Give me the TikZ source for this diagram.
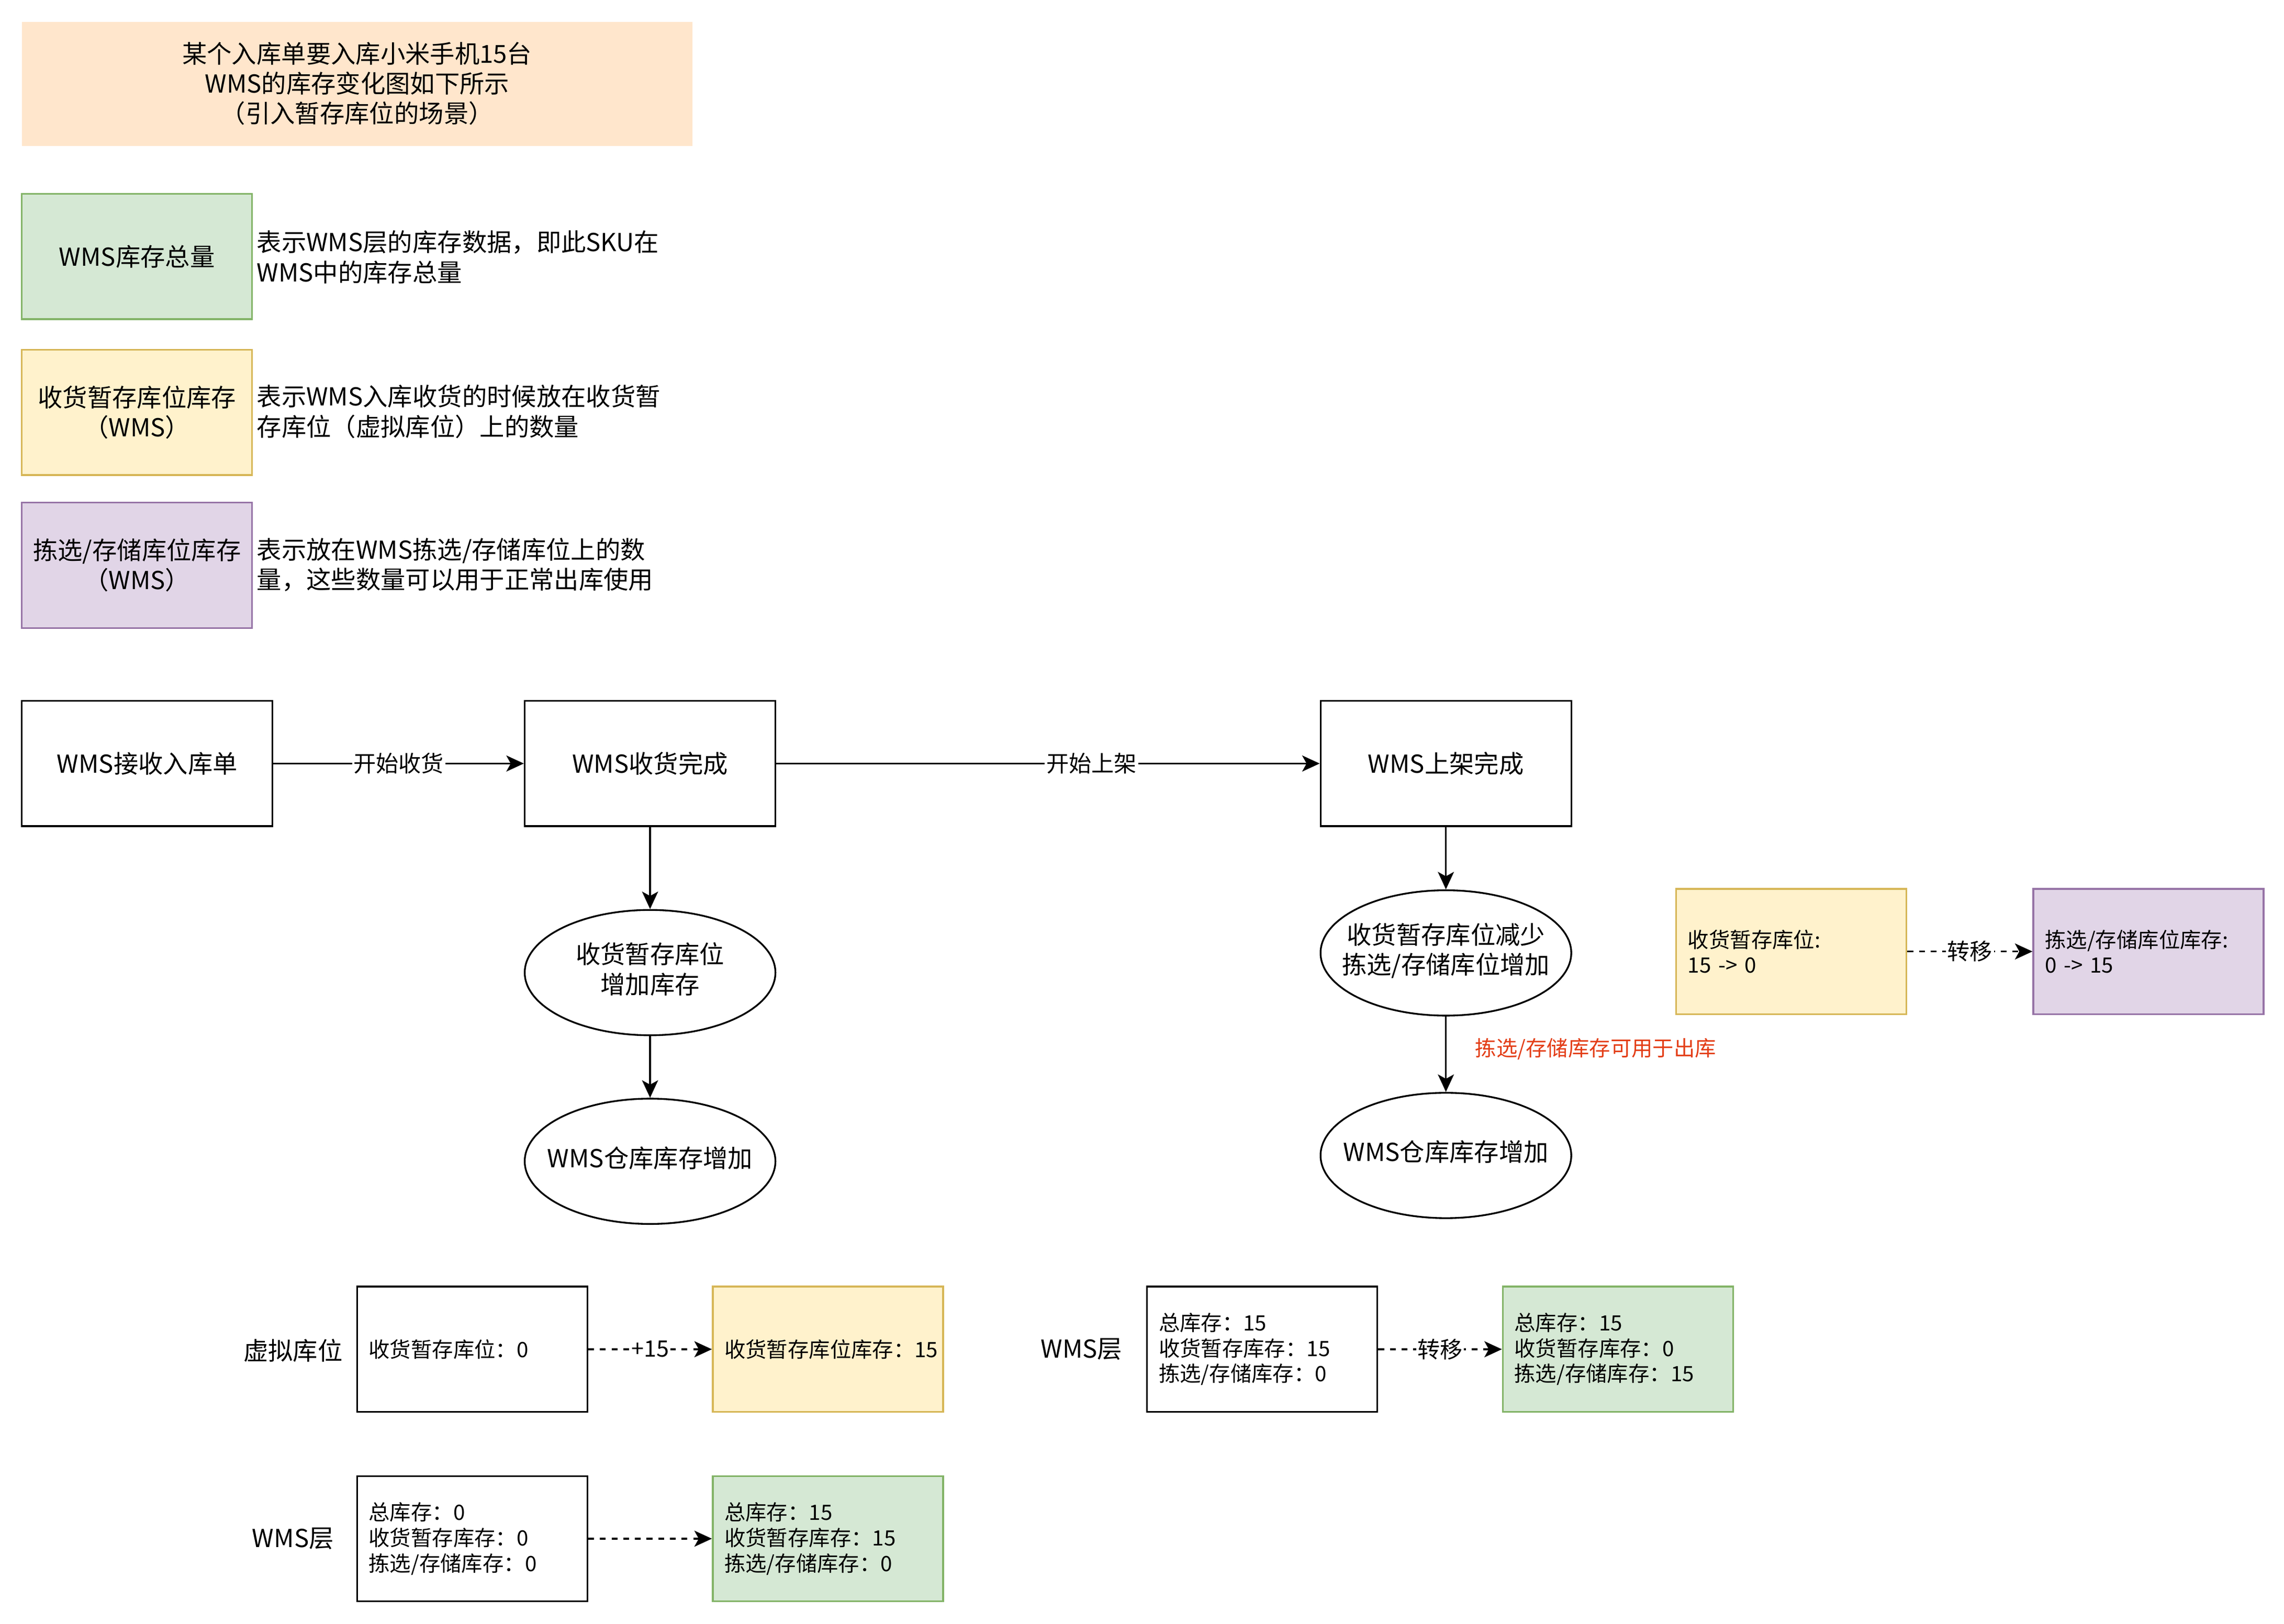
\documentclass[tikz,border=0pt]{standalone}
\usepackage{fontspec}
\setmainfont{Noto Sans CJK SC}
\usetikzlibrary{arrows.meta,shapes.geometric}
\definecolor{peach}{HTML}{FFE6CC}
\definecolor{lgreen}{HTML}{D5E8D4}
\definecolor{dgreen}{HTML}{82B366}
\definecolor{lyellow}{HTML}{FFF2CC}
\definecolor{dyellow}{HTML}{D6B656}
\definecolor{lpurple}{HTML}{E1D5E7}
\definecolor{dpurple}{HTML}{9673A6}
\definecolor{hint}{HTML}{E33D16}
\newcommand{\bigfont}{\fontsize{17}{20.5}\selectfont}
\newcommand{\smallfont}{\fontsize{14.5}{17.5}\selectfont}
% text of zero width, so the ellipse keeps its given size
\newcommand{\elltext}[1]{\makebox[0pt]{\begin{tabular}{@{}c@{}}#1\end{tabular}}}
\tikzset{
  flowbox/.style={draw, line width=1.2pt, minimum width=172pt, minimum height=86pt, inner sep=0pt, align=center, font=\bigfont},
  flowell/.style={draw, ellipse, line width=1.2pt, minimum width=172pt, minimum height=86pt, inner sep=0pt, font=\bigfont},
  legendbox/.style={draw, line width=1.2pt, minimum width=158pt, minimum height=86pt, inner sep=0pt, align=center, font=\bigfont},
  statebox/.style={draw, line width=1.2pt, text width=142pt, inner xsep=8pt, inner ysep=0pt, minimum height=86pt, align=left, font=\smallfont},
  desc/.style={anchor=west, inner sep=0pt, align=left, font=\bigfont},
  lbl/.style={fill=white, inner sep=1pt, font=\fontsize{15.5}{18}\selectfont},
  arr/.style={-{Stealth[length=12pt, width=11pt, inset=3pt]}, line width=1.2pt},
  dash arr/.style={arr, dash pattern=on 4pt off 4pt}
}
\begin{document}
\begin{tikzpicture}[x=1pt, y=-1pt]
\useasboundingbox (0,0) rectangle (1567,1114.5);
% title and legend
\path (245,57.5) node (title) [fill=peach, minimum width=460pt, minimum height=85pt, inner sep=0pt, align=center, font=\bigfont]
  {某个入库单要入库小米手机15台\\WMS的库存变化图如下所示\\（引入暂存库位的场景）};
\path (94,176) node (lgtotal) [legendbox, fill=lgreen, draw=dgreen] {WMS库存总量}
( 94,283) node (lgtemp) [legendbox, fill=lyellow, draw=dyellow] {收货暂存库位库存\\（WMS）}
( 94,388) node (lgpick) [legendbox, fill=lpurple, draw=dpurple] {拣选/存储库位库存\\（WMS）};
\path (176,176.5) node (dtotal) [desc] {表示WMS层的库存数据，即此SKU在\\WMS中的库存总量}
(176,282.5) node (dtemp) [desc] {表示WMS入库收货的时候放在收货暂\\存库位（虚拟库位）上的数量}
(176,387.5) node (dpick) [desc] {表示放在WMS拣选/存储库位上的数\\量，这些数量可以用于正常出库使用};
% flow
\path (101,524) node (recv) [flowbox] {WMS接收入库单}
(446,524) node (done) [flowbox] {WMS收货完成}
(992,524) node (shelf) [flowbox] {WMS上架完成}
(446,667.5) node (tmpup) [flowell] {\elltext{收货暂存库位\\增加库存}}
(446,797) node (wmsup1) [flowell] {\elltext{WMS仓库库存增加}}
(992,654) node (move) [flowell] {\elltext{收货暂存库位减少\\拣选/存储库位增加}}
(992,793) node (wmsup2) [flowell] {\elltext{WMS仓库库存增加}};
\path (1012,720) node (usable) [anchor=west, inner sep=0pt, text=hint, font=\smallfont] {拣选/存储库存可用于出库};
\draw [arr] (recv) -- node [lbl] {开始收货} (done);
\draw [arr] (done) -- node [lbl, pos=0.58] {开始上架} (shelf);
\draw [arr] (done) -- (tmpup);
\draw [arr] (tmpup) -- (wmsup1);
\draw [arr] (shelf) -- (move);
\draw [arr] (move) -- (wmsup2);
% shelving transfer
\path (1229,653) node (rtemp) [statebox, fill=lyellow, draw=dyellow] {收货暂存库位:\\15 -> 0}
(1474,653) node (rpick) [statebox, fill=lpurple, draw=dpurple] {拣选/存储库位库存:\\0 -> 15};
\draw [dash arr] (rtemp) -- node [lbl] {转移} (rpick);
% inventory states
\path (201,927) node (vloc) [inner sep=0pt, font=\bigfont] {虚拟库位}
(201,1056) node (wmsa) [inner sep=0pt, font=\bigfont] {WMS层}
(742,926) node (wmsb) [inner sep=0pt, font=\bigfont] {WMS层};
\path (324,926) node (v0) [statebox, fill=white] {收货暂存库位：0}
(568,926) node (v15) [statebox, fill=lyellow, draw=dyellow] {收货暂存库位库存：15}
(324,1056) node (a0) [statebox, fill=white] {总库存：0\\收货暂存库存：0\\拣选/存储库存：0}
(568,1056) node (a15) [statebox, fill=lgreen, draw=dgreen] {总库存：15\\收货暂存库存：15\\拣选/存储库存：0}
(866,926) node (b0) [statebox, fill=white] {总库存：15\\收货暂存库存：15\\拣选/存储库存：0}
(1110,926) node (b15) [statebox, fill=lgreen, draw=dgreen] {总库存：15\\收货暂存库存：0\\拣选/存储库存：15};
\draw [dash arr] (v0) -- node [lbl] {+15} (v15);
\draw [dash arr] (a0) -- (a15);
\draw [dash arr] (b0) -- node [lbl] {转移} (b15);
\end{tikzpicture}
\end{document}
